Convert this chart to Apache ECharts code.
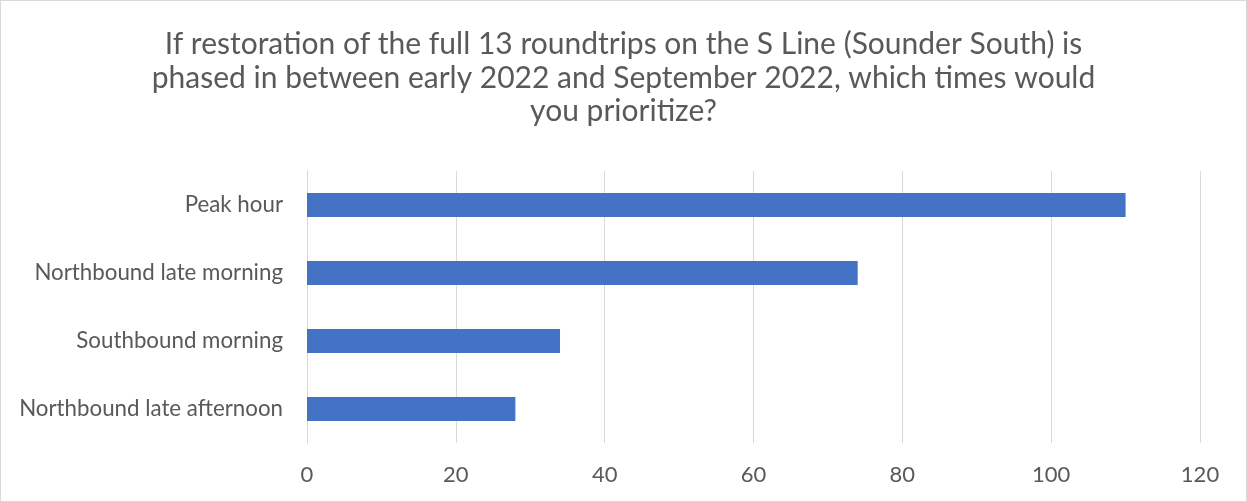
<!DOCTYPE html>
<html>
<head>
<meta charset="utf-8">
<script src="https://cdn.jsdelivr.net/npm/echarts@6/dist/echarts.min.js"></script>
<style>
html,body{margin:0;padding:0;background:#fff;}
#wrap{position:absolute;left:0;top:0;width:1247px;height:502px;box-sizing:border-box;border:1px solid #d9d9d9;}
#chart{position:absolute;left:0;top:0;width:1247px;height:502px;}
</style>
</head>
<body>
<div id="chart"></div>
<div id="wrap"></div>
<script>
const titleText = "If restoration of the full 13 roundtrips on the S Line (Sounder South) is\nphased in between early 2022 and September 2022, which times would\nyou prioritize?";
const categories = ["Peak hour", "Northbound late morning", "Southbound morning", "Northbound late afternoon"];
const values = [110, 74, 34, 28];
const axisMin = 0, axisMax = 120, axisStep = 20;

const FONT = "Lato, 'Open Sans', sans-serif";
const chart = echarts.init(document.getElementById('chart'), null, {renderer: 'canvas'});
chart.setOption({
  animation: false,
  backgroundColor: '#ffffff',
  title: {
    text: titleText,
    left: 'center',
    top: 23,
    textStyle: {fontFamily: FONT, fontSize: 30, fontWeight: 'normal', color: '#595959', lineHeight: 33.5}
  },
  grid: {left: 307, right: 47, top: 171, bottom: 59, containLabel: false},
  xAxis: {
    type: 'value', min: axisMin, max: axisMax, interval: axisStep,
    axisLine: {show: false}, axisTick: {show: false},
    splitLine: {show: true, lineStyle: {color: '#d9d9d9', width: 1}},
    axisLabel: {fontFamily: FONT, fontSize: 22, color: '#595959', margin: 21}
  },
  yAxis: {
    type: 'category', data: categories, inverse: true,
    axisLine: {show: true, lineStyle: {color: '#d9d9d9', width: 1}},
    axisTick: {show: false},
    axisLabel: {fontFamily: FONT, fontSize: 22.3, color: '#595959', margin: 24}
  },
  series: [{
    type: 'bar', data: values, barWidth: 24,
    itemStyle: {color: '#4472c4'}
  }]
});
</script>
</body>
</html>
